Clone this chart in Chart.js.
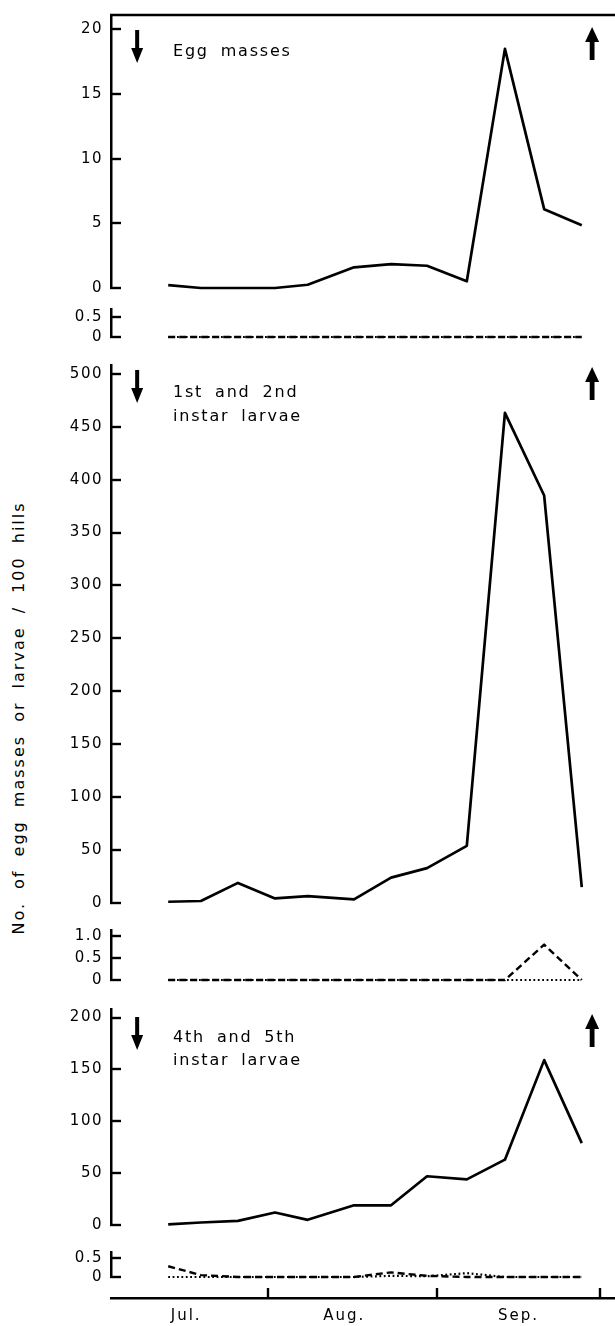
<!DOCTYPE html>
<html>
<head>
<meta charset="utf-8">
<script src="https://cdn.jsdelivr.net/npm/chart.js@4.4.0/dist/chart.umd.min.js"></script>
<style>
  body { margin:0; background:#fff; width:615px; height:1326px; position:relative; overflow:hidden; }
  canvas { position:absolute; left:0; }
  #ytitle { position:absolute; left:18px; top:718px; transform:translate(-50%,-50%) rotate(-90deg);
            white-space:nowrap; font:16px 'DejaVu Sans', sans-serif; letter-spacing:2px; word-spacing:6px; color:#000; }
</style>
</head>
<body>
<div id="ytitle">No. of egg masses or larvae / 100 hills</div>
<script>
// sampling dates, days after 1 July
const DAYS = [12.7, 18.7, 25.5, 32.3, 38.3, 46.8, 53.6, 60.2, 67.5, 74.5, 81.7, 88.6];
const ARROW_DAYS = [7, 90.5];
const MONTHS = ['Jul.', 'Aug.', 'Sep.'];
const MONTH_LABEL_DAYS = [16, 45, 77];
const MONTH_EDGES = [31, 62, 92];

// egg masses
const eggMain   = [0.22, 0, 0, 0, 0.25, 1.6, 1.85, 1.72, 0.52, 18.5, 6.1, 4.85];
const eggDashed = [0, 0, 0, 0, 0, 0, 0, 0, 0, 0, 0, 0];
const eggDotted = [0, 0, 0, 0, 0, 0, 0, 0, 0, 0, 0, 0];
const eggTicks = [0, 5, 10, 15, 20];

// 1st and 2nd instar larvae
const youngMain   = [1.2, 1.9, 19, 4.3, 6.5, 3.4, 24, 33, 54, 463, 385, 15];
const youngDashed = [0, 0, 0, 0, 0, 0, 0, 0, 0, 0, 0.8, 0];
const youngDotted = [0, 0, 0, 0, 0, 0, 0, 0, 0, 0, 0, 0];
const youngTicks = [0, 50, 100, 150, 200, 250, 300, 350, 400, 450, 500];

// 4th and 5th instar larvae
const oldMain   = [0.6, 2.4, 4, 12, 5, 19, 19, 47, 44, 63, 159, 79];
const oldDashed = [0.28, 0.05, 0, 0, 0, 0, 0.12, 0.03, 0, 0, 0, 0];
const oldDotted = [0, 0, 0, 0, 0, 0, 0.03, 0.02, 0.1, 0, 0, 0];
const oldTicks = [0, 50, 100, 150, 200];

const subTicksHalf = [0, 0.5];
const subLabelsHalf = ['0', '0.5'];
const subTicksOne = [0, 0.5, 1];
const subLabelsOne = ['0', '0.5', '1.0'];

Chart.defaults.font.family = "'DejaVu Sans', sans-serif";
Chart.defaults.color = '#000';

const W = 615, PAD = 12, AXIS_X = 111, TICK_LEN = 10;
const X_MIN = 2.2, X_MAX = 94.7;
const STYLES = {
  solid:  { borderWidth: 2.7, borderDash: [] },
  dashed: { borderWidth: 2.4, borderDash: [7, 4] },
  dotted: { borderWidth: 2.2, borderDash: [1.8, 2.6] }
};

const panels = [
  { top: 10, bottom: 293, yMax: 21.12, ticks: eggTicks, series: [[eggMain, 'solid']],
    frame: true, arrowTop: 30, text: ['Egg masses'], textY: [52] },
  { top: 304, bottom: 342, yMax: 0.70, ticks: subTicksHalf, labels: subLabelsHalf,
    series: [[eggDotted, 'dotted'], [eggDashed, 'dashed']] },
  { top: 360, bottom: 908, yMax: 508.3, ticks: youngTicks, series: [[youngMain, 'solid']],
    arrowTop: 370, text: ['1st and 2nd', 'instar larvae'], textY: [393, 417] },
  { top: 925, bottom: 985, yMax: 1.13, ticks: subTicksOne, labels: subLabelsOne,
    series: [[youngDotted, 'dotted'], [youngDashed, 'dashed']] },
  { top: 1004, bottom: 1230, yMax: 208.3, ticks: oldTicks, series: [[oldMain, 'solid']],
    arrowTop: 1017, text: ['4th and 5th', 'instar larvae'], textY: [1038, 1061] },
  { top: 1247, bottom: 1282, yMax: 0.65, ticks: subTicksHalf, labels: subLabelsHalf,
    series: [[oldDotted, 'dotted'], [oldDashed, 'dashed']] }
];

function addCanvas(top, height) {
  const c = document.createElement('canvas');
  c.width = W; c.height = height;
  c.style.top = top + 'px';
  document.body.appendChild(c);
  return c;
}

function arrow(ctx, x, y0, down) {
  const len = 33, head = 15, hw = 6, sw = 2;
  ctx.beginPath();
  if (down) {
    ctx.rect(x - sw, y0, sw * 2, len - head + 1);
    ctx.moveTo(x - hw, y0 + len - head); ctx.lineTo(x + hw, y0 + len - head); ctx.lineTo(x, y0 + len);
  } else {
    ctx.moveTo(x, y0); ctx.lineTo(x + hw + 1, y0 + head); ctx.lineTo(x - hw - 1, y0 + head);
    ctx.closePath();
    ctx.rect(x - sw - 0.4, y0 + head - 1, sw * 2 + 0.8, len - head + 1);
  }
  ctx.fill();
}

function makePanel(p) {
  const cTop = p.top - PAD;
  const canvas = addCanvas(cTop, p.bottom - p.top + 2 * PAD);
  const deco = {
    id: 'deco',
    beforeDraw(chart) { chart.ctx.letterSpacing = '1.5px'; },
    afterDraw(chart) {
      const ctx = chart.ctx, a = chart.chartArea, ys = chart.scales.y, xs = chart.scales.x;
      ctx.save();
      ctx.strokeStyle = '#000'; ctx.fillStyle = '#000'; ctx.lineWidth = 2.4;
      ys.ticks.forEach(t => {
        const y = Math.round(ys.getPixelForValue(t.value));
        ctx.beginPath(); ctx.moveTo(a.left - 1, y); ctx.lineTo(a.left + TICK_LEN, y); ctx.stroke();
      });
      if (p.frame) {
        ctx.beginPath(); ctx.moveTo(a.left - 1, a.top); ctx.lineTo(a.right, a.top); ctx.stroke();
      }
      if (p.arrowTop) {
        arrow(ctx, xs.getPixelForValue(ARROW_DAYS[0]), p.arrowTop - cTop, true);
        arrow(ctx, xs.getPixelForValue(ARROW_DAYS[1]), p.arrowTop - cTop - 3, false);
      }
      if (p.text) {
        ctx.font = "16px 'DejaVu Sans', sans-serif";
        ctx.letterSpacing = '1.8px';
        ctx.wordSpacing = '5px';
        ctx.textBaseline = 'middle'; ctx.textAlign = 'left';
        p.text.forEach((s, i) => ctx.fillText(s, 173, p.textY[i] - cTop));
      }
      ctx.restore();
    }
  };
  new Chart(canvas, {
    type: 'line',
    data: {
      datasets: p.series.map(([vals, st]) => ({
        data: vals.map((v, i) => ({ x: DAYS[i], y: v })),
        borderColor: '#000',
        borderWidth: STYLES[st].borderWidth,
        borderDash: STYLES[st].borderDash,
        borderJoinStyle: 'round',
        pointRadius: 0, tension: 0, fill: false, clip: false
      }))
    },
    options: {
      responsive: false, animation: false, events: [],
      layout: { autoPadding: false, padding: { top: PAD, bottom: PAD, left: 0, right: 0 } },
      plugins: { legend: { display: false }, tooltip: { enabled: false } },
      scales: {
        x: { type: 'linear', min: X_MIN, max: X_MAX, display: false },
        y: {
          min: 0, max: p.yMax,
          afterFit: s => { s.width = AXIS_X; },
          afterBuildTicks: s => { s.ticks = p.ticks.map(v => ({ value: v })); },
          ticks: { padding: 8, font: { size: 15 }, color: '#000',
                   callback: (v, i) => p.labels ? p.labels[i] : String(v) },
          grid: { drawOnChartArea: false, drawTicks: false },
          border: { color: '#000', width: 2.5 }
        }
      }
    },
    plugins: [deco]
  });
}

panels.forEach(makePanel);

// shared time axis
const axisCanvas = addCanvas(1288, 38);
new Chart(axisCanvas, {
  type: 'line',
  data: { datasets: [] },
  options: {
    responsive: false, animation: false, events: [],
    layout: { autoPadding: false, padding: { top: 0, bottom: 0, left: AXIS_X, right: 0 } },
    plugins: { legend: { display: false }, tooltip: { enabled: false } },
    scales: {
      x: {
        type: 'linear', min: X_MIN, max: X_MAX,
        afterFit: s => { s.height = 28; },
        afterBuildTicks: s => { s.ticks = MONTH_LABEL_DAYS.map(v => ({ value: v })); },
        ticks: { callback: (v, i) => MONTHS[i], padding: 9, font: { size: 15 }, color: '#000',
                 maxRotation: 0, autoSkip: false },
        grid: { drawOnChartArea: false, drawTicks: false },
        border: { color: '#000', width: 2.5 }
      },
      y: { display: false, min: 0, max: 1 }
    }
  },
  plugins: [{
    id: 'edges',
    beforeDraw(chart) { chart.ctx.letterSpacing = '2px'; },
    afterDraw(chart) {
      const ctx = chart.ctx, a = chart.chartArea, xs = chart.scales.x;
      ctx.save();
      ctx.strokeStyle = '#000'; ctx.lineWidth = 2.4;
      MONTH_EDGES.forEach(d => {
        const x = Math.round(xs.getPixelForValue(d));
        ctx.beginPath(); ctx.moveTo(x, a.bottom); ctx.lineTo(x, a.bottom - TICK_LEN); ctx.stroke();
      });
      ctx.restore();
    }
  }]
});
</script>
</body>
</html>
